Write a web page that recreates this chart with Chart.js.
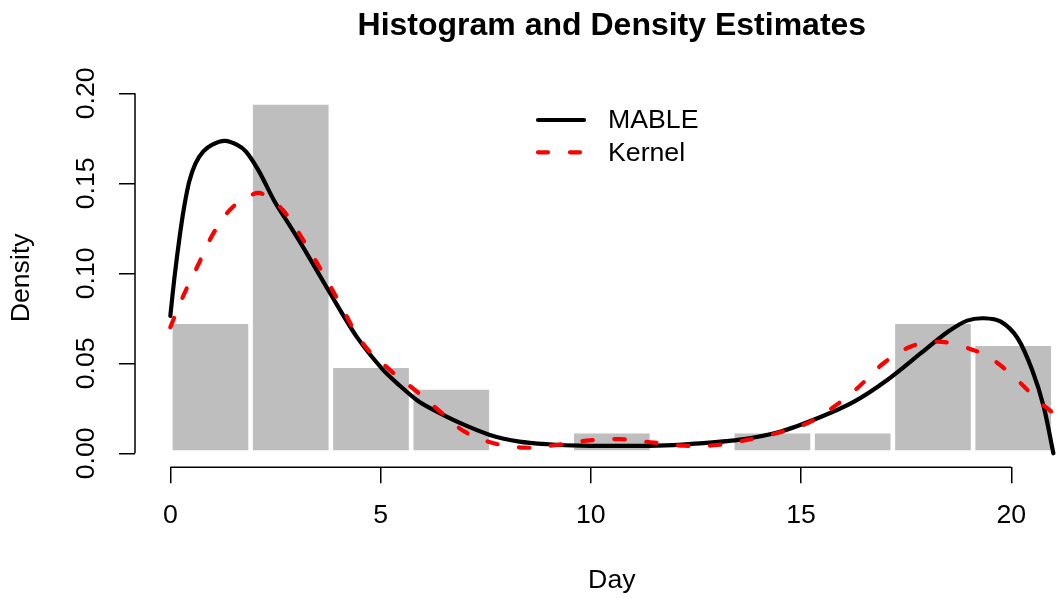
<!DOCTYPE html>
<html>
<head>
<meta charset="utf-8">
<title>Histogram and Density Estimates</title>
<script src="https://cdn.jsdelivr.net/npm/chart.js@4.4.1/dist/chart.umd.min.js"></script>
<style>
  html, body { margin: 0; padding: 0; background: #fff; overflow: hidden; }
  canvas { display: block; }
</style>
</head>
<body>
<!-- the R plot region runs a little past the right edge of the picture, so the canvas does too -->
<canvas id="chart" width="1100" height="598"></canvas>
<script>
// Histogram of Day with MABLE and kernel density estimates, drawn in R base-graphics style.

// histogram: bin breaks and density of each bin
const breaks = [0, 1.909, 3.818, 5.727, 7.636, 9.545, 11.455, 13.364, 15.273, 17.182, 19.091, 21];
const densities = [0.0731, 0.1949, 0.0487, 0.0365, 0, 0.0122, 0, 0.0122, 0.0122, 0.0731, 0.0609];

// MABLE density curve
const mableX = [0, 0.1, 0.22, 0.33, 0.45, 0.6, 0.78, 1.0, 1.3, 1.6, 1.8, 2.1, 2.5, 2.8, 3.15, 3.8,
  4.43, 5.06, 5.46, 5.86, 6.2, 6.9, 7.6, 8.3, 9.0, 9.75, 10.6, 11.6, 12.4, 13.5, 14.5, 15.45,
  16.25, 17.05, 17.85, 18.5, 18.95, 19.35, 19.75, 20.15, 20.5, 20.77, 21.0];
const mableY = [0.0763, 0.098, 0.120, 0.137, 0.151, 0.161, 0.1676, 0.1715, 0.1735, 0.1712, 0.1676,
  0.157, 0.139, 0.128, 0.1148, 0.0889, 0.0648, 0.0463, 0.0375, 0.0296, 0.0248, 0.0167, 0.0102,
  0.0065, 0.005, 0.0042, 0.0041, 0.0042, 0.0052, 0.0074, 0.012, 0.020, 0.0285, 0.0407, 0.0556,
  0.0676, 0.0737, 0.075, 0.0731, 0.0639, 0.046, 0.0259, 0.0];

// kernel density curve
const kernelX = [0, 0.3, 0.66, 1.02, 1.45, 1.97, 2.2, 2.68, 3.16, 3.63, 4.03, 4.58, 5.22, 5.85,
  6.42, 7.0, 7.69, 8.44, 9.19, 9.9, 10.7, 11.5, 12.22, 13.0, 13.8, 14.5, 15.23, 15.85, 16.33,
  16.96, 17.6, 18.23, 18.86, 19.5, 20.14, 20.62, 21.0];
const kernelY = [0.070, 0.087, 0.1046, 0.122, 0.136, 0.1439, 0.1440, 0.135, 0.1185, 0.100, 0.0833,
  0.061, 0.0463, 0.0345, 0.0231, 0.012, 0.0056, 0.0031, 0.0046, 0.007, 0.0078, 0.0059, 0.0042,
  0.0046, 0.0078, 0.0117, 0.0176, 0.027, 0.036, 0.050, 0.0592, 0.062, 0.0592, 0.0528, 0.0407,
  0.0296, 0.0222];

const xTicks = [0, 5, 10, 15, 20];
const xTickLabels = ['0', '5', '10', '15', '20'];
const yTicks = [0, 0.05, 0.10, 0.15, 0.20];
const yTickLabels = ['0.00', '0.05', '0.10', '0.15', '0.20'];

// R pads the axis limits by 4%
const xRange = [-0.84, 21.84];
const yRange = [-0.0078, 0.2027];

const FONT = '"Liberation Sans", Arial, Helvetica, sans-serif';
const BASE = 26.7;

Chart.defaults.font.family = FONT;
Chart.defaults.color = '#000';

const toPoints = (xs, ys) => xs.map((x, i) => ({ x, y: ys[i] }));

// R draws its axis line only between the first and last tick
const rAxisLines = {
  id: 'rAxisLines',
  afterDraw(chart) {
    const { ctx, chartArea, scales: { x, y } } = chart;
    ctx.save();
    ctx.strokeStyle = '#000';
    ctx.lineWidth = 1.5;
    ctx.beginPath();
    ctx.moveTo(x.getPixelForValue(xTicks[0]), chartArea.bottom);
    ctx.lineTo(x.getPixelForValue(xTicks[xTicks.length - 1]), chartArea.bottom);
    ctx.moveTo(chartArea.left, y.getPixelForValue(yTicks[0]));
    ctx.lineTo(chartArea.left, y.getPixelForValue(yTicks[yTicks.length - 1]));
    ctx.stroke();
    ctx.restore();
  }
};

// borderless line legend like legend("top", lty = 1:2)
const lineLegend = {
  id: 'lineLegend',
  afterDraw(chart, args, opts) {
    const { ctx } = chart;
    const items = chart.data.datasets.filter(d => d.type === 'line');
    ctx.save();
    ctx.font = `${BASE}px ${FONT}`;
    ctx.textBaseline = 'middle';
    items.forEach((d, i) => {
      const yy = opts.top + i * opts.rowHeight;
      ctx.strokeStyle = d.borderColor;
      ctx.lineWidth = d.borderWidth;
      ctx.lineCap = 'round';
      ctx.setLineDash(d.borderDash || []);
      ctx.beginPath();
      ctx.moveTo(opts.left, yy);
      ctx.lineTo(opts.left + opts.lineLength, yy);
      ctx.stroke();
      ctx.setLineDash([]);
      ctx.fillStyle = '#000';
      ctx.fillText(d.label, opts.left + opts.textOffset, yy + 1);
    });
    ctx.restore();
  }
};

const bars = breaks.slice(0, -1).map((b, i) => ({ x: (b + breaks[i + 1]) / 2, y: densities[i] }));

new Chart(document.getElementById('chart'), {
  data: {
    datasets: [
      {
        type: 'bar',
        label: 'Histogram',
        data: bars,
        backgroundColor: '#bebebe',
        borderColor: '#ffffff',
        borderWidth: 2.3,
        borderSkipped: false,
        inflateAmount: 0,
        barPercentage: 1,
        categoryPercentage: 1,
        order: 3
      },
      {
        type: 'line',
        label: 'MABLE',
        data: toPoints(mableX, mableY),
        borderColor: '#000000',
        borderWidth: 4.2,
        borderCapStyle: 'round',
        pointRadius: 0,
        tension: 0.3,
        order: 2
      },
      {
        type: 'line',
        label: 'Kernel',
        data: toPoints(kernelX, kernelY),
        borderColor: '#ff0000',
        borderWidth: 4.2,
        borderDash: [10, 22],
        borderCapStyle: 'round',
        pointRadius: 0,
        tension: 0.4,
        order: 1
      }
    ]
  },
  options: {
    responsive: false,
    animation: false,
    devicePixelRatio: 1,
    layout: { padding: { left: 0, top: 0, bottom: 0, right: 11.3 } },
    plugins: {
      legend: { display: false },
      tooltip: { enabled: false },
      lineLegend: { left: 538, top: 120, rowHeight: 32.3, lineLength: 46, textOffset: 70 }
    },
    scales: {
      x: {
        type: 'linear',
        position: 'bottom',
        min: xRange[0],
        max: xRange[1],
        offset: false,
        afterBuildTicks: s => { s.ticks = xTicks.map(v => ({ value: v })); },
        afterFit: s => { s.height = 130.7; },
        grid: { offset: false, drawOnChartArea: false, drawTicks: true, tickLength: 16, color: '#000', lineWidth: 1.5 },
        border: { display: false },
        ticks: {
          autoSkip: false,
          maxRotation: 0,
          padding: 16.7,
          font: { size: BASE },
          callback: v => xTickLabels[xTicks.indexOf(v)]
        },
        title: { display: true, text: 'Day', font: { size: BASE }, padding: { top: 0, bottom: 1.2 } }
      },
      main: {
        type: 'linear',
        axis: 'x',
        position: 'top',
        display: true,
        afterFit: s => { s.height = 88.4; },
        grid: { display: false },
        border: { display: false },
        ticks: { display: false },
        title: {
          display: true,
          text: 'Histogram and Density Estimates',
          font: { size: 32, weight: 'bold' },
          padding: { top: 6.8, bottom: 0 }
        }
      },
      y: {
        type: 'linear',
        min: yRange[0],
        max: yRange[1],
        afterBuildTicks: s => { s.ticks = yTicks.map(v => ({ value: v })); },
        afterFit: s => { s.width = 135; },
        grid: { drawOnChartArea: false, drawTicks: true, tickLength: 16, color: '#000', lineWidth: 1.5 },
        border: { display: false },
        ticks: {
          autoSkip: false,
          minRotation: 90,
          maxRotation: 90,
          crossAlign: 'center',
          padding: 6.3,
          font: { size: BASE },
          callback: v => yTickLabels[yTicks.indexOf(v)]
        },
        title: { display: true, text: 'Density', font: { size: BASE }, padding: { top: 5.7, bottom: 0 } }
      }
    }
  },
  plugins: [rAxisLines, lineLegend]
});
</script>
</body>
</html>
